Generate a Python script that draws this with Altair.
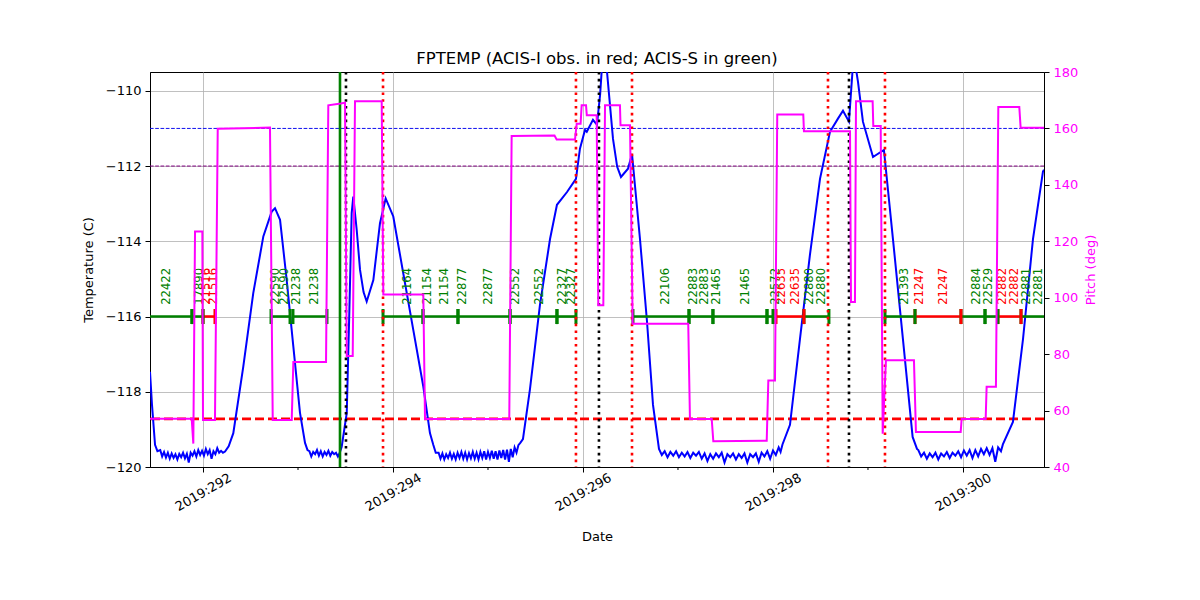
import altair as alt
import pandas as pd

# ---------------- data ----------------
# Temperature (FPTEMP) series, day of year 2019 vs deg C
temp_day = [
    291.442, 291.463, 291.495, 291.52,
    291.55, 291.57, 291.59, 291.61, 291.63, 291.65, 291.67, 291.69, 291.71, 291.73,
    291.75, 291.77, 291.79, 291.81, 291.83, 291.85, 291.87, 291.89, 291.91, 291.93,
    291.95, 291.97, 291.99, 292.01, 292.03, 292.05, 292.07, 292.09, 292.11, 292.13,
    292.15, 292.17, 292.19, 292.21, 292.232,
    292.27, 292.319, 292.424, 292.529, 292.635, 292.723, 292.758, 292.811, 292.881,
    292.951, 293.021, 293.074,
    293.10, 293.12, 293.14, 293.16, 293.18, 293.20, 293.22, 293.24, 293.26, 293.28,
    293.30, 293.32, 293.34, 293.36, 293.38, 293.40, 293.42, 293.44,
    293.46, 293.513, 293.54, 293.565, 293.582, 293.618, 293.653, 293.69, 293.723,
    293.793, 293.863, 293.923, 294.003, 294.108, 294.214, 294.319, 294.389, 294.424,
    294.45, 294.48, 294.50, 294.52, 294.54, 294.56, 294.58, 294.60, 294.62, 294.64, 294.66,
    294.68, 294.70, 294.72, 294.74, 294.76, 294.78, 294.80, 294.82, 294.84, 294.86,
    294.88, 294.90, 294.92, 294.94, 294.96, 294.98, 295.00, 295.02, 295.04, 295.06,
    295.08, 295.10, 295.12, 295.14, 295.16, 295.18, 295.20, 295.22, 295.24, 295.26,
    295.28, 295.30, 295.32, 295.34,
    295.368, 295.442, 295.547, 295.653, 295.726, 295.832, 295.926, 295.968, 296.021,
    296.04, 296.105, 296.147, 296.18, 296.2, 296.221, 296.253, 296.316, 296.36,
    296.4, 296.474, 296.516, 296.6, 296.674, 296.737, 296.8,
    296.83, 296.86, 296.89, 296.92, 296.95, 296.98, 297.01, 297.04, 297.07, 297.10,
    297.13, 297.16, 297.19, 297.22, 297.25, 297.28, 297.31, 297.34, 297.37, 297.40,
    297.43, 297.46, 297.49, 297.52, 297.55, 297.58, 297.61, 297.64, 297.67, 297.70,
    297.73, 297.76, 297.79, 297.82, 297.85, 297.88, 297.91, 297.94, 297.97, 298.00,
    298.03, 298.06, 298.08, 298.10,
    298.179, 298.284, 298.389, 298.495, 298.6, 298.684, 298.737, 298.8, 298.842,
    298.86, 298.895, 298.947, 299.053, 299.168, 299.263, 299.368, 299.47, 299.516,
    299.53, 299.56, 299.59, 299.62, 299.65, 299.68, 299.71, 299.74, 299.77, 299.80,
    299.83, 299.86, 299.89, 299.92, 299.95, 299.98, 300.01, 300.04, 300.07, 300.10,
    300.13, 300.16, 300.19, 300.22, 300.25, 300.28, 300.31, 300.34, 300.37, 300.40,
    300.42,
    300.526, 300.632, 300.737, 300.842, 300.853,
]
temp_degc = [
    -117.47, -118.35, -119.41, -119.58,
    -119.55, -119.72, -119.60, -119.75, -119.62, -119.78, -119.64, -119.76, -119.66, -119.80,
    -119.65, -119.74, -119.62, -119.77, -119.65, -119.88, -119.62, -119.70, -119.58, -119.72,
    -119.55, -119.68, -119.57, -119.70, -119.52, -119.66, -119.55, -119.78, -119.58, -119.66,
    -119.50, -119.62, -119.57, -119.62, -119.59,
    -119.45, -119.10, -117.33, -115.38, -113.87, -113.21, -113.12, -113.43, -115.03,
    -116.80, -118.56, -119.36,
    -119.55, -119.58, -119.72, -119.60, -119.66, -119.55, -119.70, -119.58, -119.72, -119.60,
    -119.68, -119.57, -119.70, -119.60, -119.66, -119.62, -119.72, -119.62,
    -119.46, -118.57, -115.91, -113.25, -112.81, -113.70, -114.76, -115.35, -115.60,
    -115.03, -113.52, -112.86, -113.34, -114.85, -116.36, -117.86, -119.10, -119.41,
    -119.62, -119.62, -119.78, -119.64, -119.80, -119.66, -119.76, -119.62, -119.78, -119.65, -119.80,
    -119.62, -119.76, -119.60, -119.78, -119.62, -119.80, -119.63, -119.77, -119.60, -119.78,
    -119.62, -119.80, -119.60, -119.76, -119.58, -119.80, -119.60, -119.76, -119.57, -119.78,
    -119.58, -119.80, -119.56, -119.76, -119.55, -119.80, -119.54, -119.86, -119.52, -119.74,
    -119.48, -119.62, -119.42, -119.36,
    -119.26, -117.93, -115.69, -113.94, -113.03, -112.69, -112.34, -111.54, -111.04,
    -111.09, -110.77, -110.90, -110.11, -109.35, -109.20, -109.50, -111.28, -112.02,
    -112.29, -112.07, -111.68, -113.94, -116.14, -118.35, -119.52,
    -119.68, -119.58, -119.74, -119.60, -119.70, -119.58, -119.74, -119.62, -119.72, -119.60,
    -119.76, -119.62, -119.70, -119.60, -119.78, -119.64, -119.84, -119.66, -119.78, -119.64,
    -119.74, -119.62, -119.88, -119.66, -119.74, -119.64, -119.80, -119.66, -119.76, -119.64,
    -119.88, -119.66, -119.74, -119.64, -119.86, -119.62, -119.72, -119.58, -119.78, -119.56,
    -119.68, -119.48, -119.60, -119.40,
    -118.88, -116.60, -114.36, -112.34, -111.09, -110.74, -110.53, -110.82, -109.30,
    -109.20, -109.76, -110.82, -111.76, -111.57, -113.94, -116.60, -119.20, -119.52,
    -119.55, -119.72, -119.62, -119.78, -119.64, -119.74, -119.62, -119.80, -119.64, -119.72,
    -119.60, -119.76, -119.62, -119.70, -119.58, -119.74, -119.56, -119.70, -119.55, -119.76,
    -119.55, -119.72, -119.52, -119.66, -119.50, -119.68, -119.50, -119.86, -119.48, -119.58,
    -119.40,
    -118.80, -116.60, -113.94, -112.15, -112.10,
]

# Pitch series (deg)
pitch_day = [
    291.442, 291.881, 291.898, 291.916, 291.993, 292.0, 292.126, 292.155, 292.705,
    292.734, 292.934, 292.951, 293.295, 293.319, 293.449, 293.495, 293.513, 293.576,
    293.6, 293.881, 293.898, 294.319, 294.337, 295.224, 295.249, 295.70, 295.723,
    295.916, 295.934, 295.975, 295.986, 296.032, 296.04, 296.144, 296.161, 296.214,
    296.232, 296.389, 296.395, 296.495, 296.523, 297.108, 297.126, 297.355, 297.372,
    297.934, 297.951, 298.021, 298.045, 298.319, 298.326, 298.811, 298.821, 298.863,
    298.874, 299.049, 299.056, 299.134, 299.155, 299.189, 299.484, 299.505, 299.976,
    299.986, 300.239, 300.249, 300.347, 300.372, 300.593, 300.607, 300.853,
]
pitch_deg = [
    57.1, 57.1, 48.3, 123.5, 123.5, 56.7, 56.7, 159.9, 160.3,
    56.7, 56.7, 77.2, 77.2, 168.2, 168.8, 169.1, 79.3, 79.3,
    169.6, 169.6, 101.1, 101.1, 57.0, 57.0, 157.3, 157.5, 156.1,
    156.1, 161.7, 161.7, 168.2, 168.2, 164.7, 164.7, 97.3, 97.3,
    168.2, 168.2, 161.1, 161.1, 90.8, 90.8, 57.0, 57.0, 49.1,
    49.3, 70.7, 70.7, 164.9, 164.9, 159.0, 159.0, 98.5, 98.5,
    169.6, 169.6, 160.9, 160.9, 51.8, 77.8, 77.8, 52.4, 52.4,
    57.0, 57.0, 68.4, 68.4, 167.6, 167.6, 160.2, 160.2,
]

# Observation segments (at -116 C)
seg_start = [291.40, 291.884, 292.0, 292.716, 292.947, 293.895, 294.316, 294.684, 295.232,
             295.726, 296.526, 297.116, 297.368, 297.937, 298.032, 298.326, 299.179, 299.495,
             299.979, 300.232, 300.368, 300.611]
seg_stop = [291.884, 292.0, 292.126, 292.916, 293.305, 294.316, 294.684, 295.232, 295.726,
            295.926, 297.116, 297.368, 297.937, 298.0, 298.326, 298.589, 299.495, 299.979,
            300.232, 300.368, 300.611, 300.90]
seg_instr = ["ACIS-S", "ACIS-S", "ACIS-I", "ACIS-S", "ACIS-S", "ACIS-S", "ACIS-S", "ACIS-S",
             "ACIS-S", "ACIS-S", "ACIS-S", "ACIS-S", "ACIS-S", "ACIS-S", "ACIS-I", "ACIS-S",
             "ACIS-S", "ACIS-I", "ACIS-S", "ACIS-S", "ACIS-I", "ACIS-S"]

# Obsid labels
label_day = [291.621, 291.968, 292.042, 292.116, 292.768, 292.863, 292.989, 293.179,
             294.158, 294.368, 294.547, 294.737, 295.011, 295.295, 295.547, 295.789, 295.884,
             296.874, 297.168, 297.284, 297.411, 297.716, 298.032, 298.095, 298.242, 298.389,
             298.516, 299.389, 299.547, 299.800, 300.147, 300.274, 300.421, 300.547, 300.674,
             300.800]
label_text = ["22422", "17890", "21516", "21516", "22590", "22590", "21238", "21238",
              "21164", "21154", "21154", "22877", "22877", "22552", "22552", "22327", "22327",
              "22106", "22883", "22883", "21465", "21465", "22572", "22635", "22635", "22880",
              "22880", "21393", "21247", "21247", "22884", "22529", "22882", "22882", "22881",
              "22881"]
label_instr = ["ACIS-S", "ACIS-S", "ACIS-I", "ACIS-I", "ACIS-S", "ACIS-S", "ACIS-S", "ACIS-S",
               "ACIS-S", "ACIS-S", "ACIS-S", "ACIS-S", "ACIS-S", "ACIS-S", "ACIS-S", "ACIS-S",
               "ACIS-S", "ACIS-S", "ACIS-S", "ACIS-S", "ACIS-S", "ACIS-S", "ACIS-S", "ACIS-I",
               "ACIS-I", "ACIS-S", "ACIS-S", "ACIS-S", "ACIS-I", "ACIS-I", "ACIS-S", "ACIS-S",
               "ACIS-I", "ACIS-I", "ACIS-S", "ACIS-S"]

# Vertical markers
green_vline = [293.442]
black_vlines = [293.505, 296.168, 298.800]
red_vlines = [293.895, 295.926, 296.516, 298.579, 299.179]
minor_days = [293, 295, 297, 299]

# Horizontal limits
limit_blue = [-111.0]
limit_purple = [-112.0]
limit_red = [-118.72]

TIMELINE_T = -116.0
LABEL_T = -115.69

# ---------------- tables ----------------
df_temp = pd.DataFrame({"day": temp_day, "T": temp_degc, "i": range(len(temp_day))})
df_pitch = pd.DataFrame({"day": pitch_day, "pitch": pitch_deg, "i": range(len(pitch_day))})
df_seg = pd.DataFrame({"day": seg_start, "day2": seg_stop, "instr": seg_instr,
                       "T": [TIMELINE_T] * len(seg_start)})
df_ticks = pd.DataFrame({"day": seg_start + seg_stop, "instr": seg_instr + seg_instr,
                         "T": [TIMELINE_T - 0.2] * (2 * len(seg_start)),
                         "T2": [TIMELINE_T + 0.2] * (2 * len(seg_start))})
df_lab = pd.DataFrame({"day": label_day, "text": label_text, "instr": label_instr,
                       "T": [LABEL_T] * len(label_day)})

FONT = "DejaVu Sans"
xscale = alt.Scale(domain=[291.442, 300.853], nice=False, zero=False)
xaxis = alt.Axis(values=[292, 294, 296, 298, 300], labelExpr="'2019:' + datum.value",
                 labelAngle=-30, labelAlign="center", labelBaseline="middle", labelPadding=20,
                 tickSize=5, grid=True, title="Date", titlePadding=17,
                 labelOverlap=False, labelFlush=False)
tscale = alt.Scale(domain=[-120, -109.5], nice=False, zero=False)
taxis = alt.Axis(values=[-120, -118, -116, -114, -112, -110], title="Temperature (C)",
                 grid=True, tickSize=5, labelPadding=4, titlePadding=10, format="d")
instr_color = alt.Scale(domain=["ACIS-I", "ACIS-S"], range=["#ff0000", "#008000"])


def X(field="day"):
    return alt.X(f"{field}:Q", scale=xscale, axis=xaxis, title="Date")


def Y(field="T"):
    return alt.Y(f"{field}:Q", scale=tscale, axis=taxis, title="Temperature (C)")


def hline(vals, color, width, dash):
    return alt.Chart(pd.DataFrame({"T": vals})).mark_rule(
        color=color, strokeWidth=width, strokeDash=dash).encode(y=Y())


def vline(vals, color, width, dash=None):
    kw = dict(color=color, strokeWidth=width)
    if dash:
        kw["strokeDash"] = dash
    return alt.Chart(pd.DataFrame({"day": vals})).mark_rule(**kw).encode(x=X())


temp_line = alt.Chart(df_temp).mark_line(color="#0000ff", strokeWidth=2, clip=True).encode(
    x=X(), y=Y(), order="i:Q")

segs = alt.Chart(df_seg).mark_rule(strokeWidth=2.6, clip=True).encode(
    x=X(), x2="day2:Q", y=Y(),
    color=alt.Color("instr:N", scale=instr_color, legend=None))
ticks = alt.Chart(df_ticks).mark_rule(strokeWidth=3, clip=True).encode(
    x=X(), y=Y(), y2="T2:Q",
    color=alt.Color("instr:N", scale=instr_color, legend=None))
labels = alt.Chart(df_lab).mark_text(angle=270, align="left", baseline="middle",
                                     font=FONT, fontSize=11.6).encode(
    x=X(), y=Y(), text="text:N",
    color=alt.Color("instr:N", scale=instr_color, legend=None))

minor = alt.Chart(pd.DataFrame({"day": minor_days})).mark_rule(
    color="black", strokeWidth=1).encode(x=X(), y=alt.value(395), y2=alt.value(398))

left = alt.layer(
    hline(limit_red, "#ff0000", 2.6, [9, 4]),
    hline(limit_blue, "#1010ee", 1, [3.7, 1.6]),
    hline(limit_purple, "#800080", 1, [3.7, 1.6]),
    temp_line,
    segs, ticks, labels,
    vline(green_vline, "#008000", 2.6),
    vline(black_vlines, "black", 2.6, [2.6, 4.2]),
    vline(red_vlines, "#ff0000", 2.6, [2.6, 4.2]),
    minor,
)

pitch_line = alt.Chart(df_pitch).mark_line(color="#ff00ff", strokeWidth=2).encode(
    x=X(),
    y=alt.Y("pitch:Q", scale=alt.Scale(domain=[40, 180], nice=False, zero=False),
            axis=alt.Axis(orient="right", values=[40, 60, 80, 100, 120, 140, 160, 180],
                          title="Pitch (deg)", titleColor="#ff00ff", labelColor="#ff00ff",
                          grid=False, tickSize=5, labelPadding=4, titlePadding=7,
                          titleAngle=270, titleBaseline="top")),
    order="i:Q")

chart = alt.layer(left, pitch_line).resolve_scale(y="independent").properties(
    width=894, height=395,
    title=alt.TitleParams("FPTEMP (ACIS-I obs. in red; ACIS-S in green)", font=FONT,
                          fontSize=16.5, fontWeight="normal", anchor="middle", offset=7,
                          dy=8, color="black", frame="group"),
    autosize=alt.AutoSizeParams(type="none"),
    padding={"left": 142, "top": 64, "right": 148, "bottom": 125},
).configure_view(stroke="black", strokeWidth=1).configure_axis(
    labelFont=FONT, titleFont=FONT, labelFontSize=13, titleFontSize=13,
    titleFontWeight="normal", domainColor="black", tickColor="black", labelColor="black",
    gridColor="#b0b0b0", gridWidth=0.8, titleColor="black", domainWidth=1,
)

chart.save("out.html", embed_options={"renderer": "svg", "actions": False})
